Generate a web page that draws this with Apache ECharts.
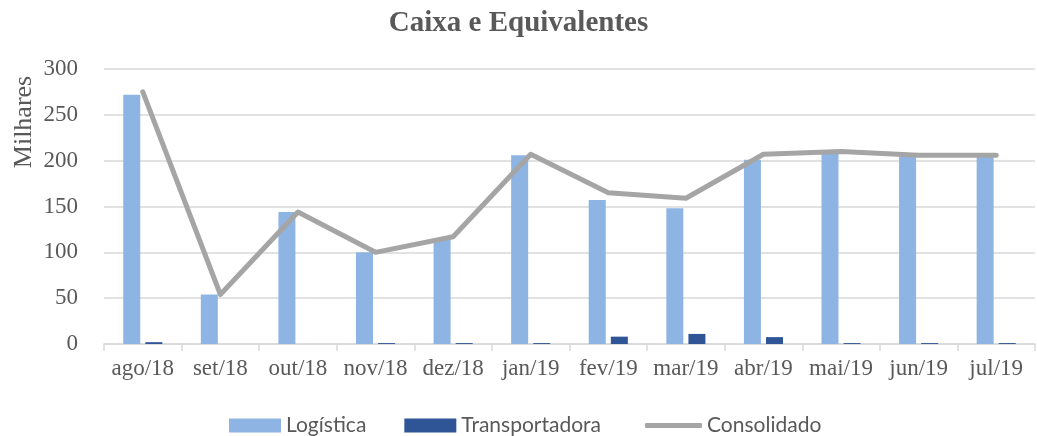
<!DOCTYPE html>
<html><head><meta charset="utf-8">
<script src="https://cdn.jsdelivr.net/npm/echarts@6/dist/echarts.min.js"></script>
<style>html,body{margin:0;padding:0;background:#fff}#c{width:1037px;height:436px}</style>
</head><body><div id="c"></div>
<script>
const categories = ['ago/18','set/18','out/18','nov/18','dez/18','jan/19','fev/19','mar/19','abr/19','mai/19','jun/19','jul/19'];
const logistica = [272, 54, 144, 100, 115, 206, 157, 148, 201, 208, 205, 205];
const transportadora = [2, 0, 0, 1, 1, 1, 8, 11, 7.5, 1, 1, 1];
const consolidado = [275, 54, 144, 100, 117, 207, 165, 159, 207, 210, 206, 206];
const yTicks = [0, 50, 100, 150, 200, 250, 300];

const serif = '"Liberation Serif", "DejaVu Serif", serif';
const sans = 'Lato, "Noto Sans", sans-serif';
const grey = '#595959';
const chart = echarts.init(document.getElementById('c'));
chart.setOption({
  animation: false,
  title: {
    text: 'Caixa e Equivalentes', left: 'center', top: 4,
    textStyle: {fontFamily: serif, fontWeight: 'bold', fontSize: 29, color: grey}
  },
  graphic: [{
    type: 'text', x: 24, y: 122, rotation: Math.PI / 2,
    style: {text: 'Milhares', fontFamily: serif, fontSize: 26, fill: grey, align: 'center', verticalAlign: 'middle'}
  }],
  legend: [{
    bottom: 0, left: 229, padding: 0, itemGap: 38, itemWidth: 52, itemHeight: 14,
    textStyle: {fontFamily: sans, fontSize: 21, color: grey},
    data: [{name: 'Logística', icon: 'rect'}, {name: 'Transportadora', icon: 'rect'}]
  }, {
    bottom: 0, left: 645, padding: 0, itemWidth: 57, itemHeight: 5,
    textStyle: {fontFamily: sans, fontSize: 21, color: grey},
    data: [{name: 'Consolidado', icon: 'roundRect'}]
  }],
  grid: {left: 104, right: 2, top: 69, bottom: 92, containLabel: false},
  xAxis: {
    type: 'category', data: categories, boundaryGap: true,
    axisLine: {lineStyle: {color: '#d9d9d9', width: 1.5}},
    axisTick: {show: true, length: 7, lineStyle: {color: '#d9d9d9', width: 1.5}},
    axisLabel: {interval: 0, hideOverlap: false, fontFamily: serif, fontSize: 23, color: grey, margin: 13}
  },
  yAxis: {
    type: 'value', min: yTicks[0], max: yTicks[yTicks.length - 1], interval: 50,
    axisLine: {show: false}, axisTick: {show: false},
    axisLabel: {fontFamily: serif, fontSize: 23, color: grey, margin: 26},
    splitLine: {lineStyle: {color: '#d9d9d9', width: 1.5}}
  },
  series: [
    {name: 'Logística', type: 'bar', data: logistica, barWidth: 17, barGap: '30%',
     itemStyle: {color: '#8EB4E3'}},
    {name: 'Transportadora', type: 'bar', data: transportadora, barWidth: 17,
     itemStyle: {color: '#2F5597'}},
    {name: 'Consolidado', type: 'line', data: consolidado, symbol: 'none',
     lineStyle: {color: '#A5A5A5', width: 5, cap: 'round', join: 'round'},
     itemStyle: {color: '#A5A5A5'}}
  ]
});
</script></body></html>
